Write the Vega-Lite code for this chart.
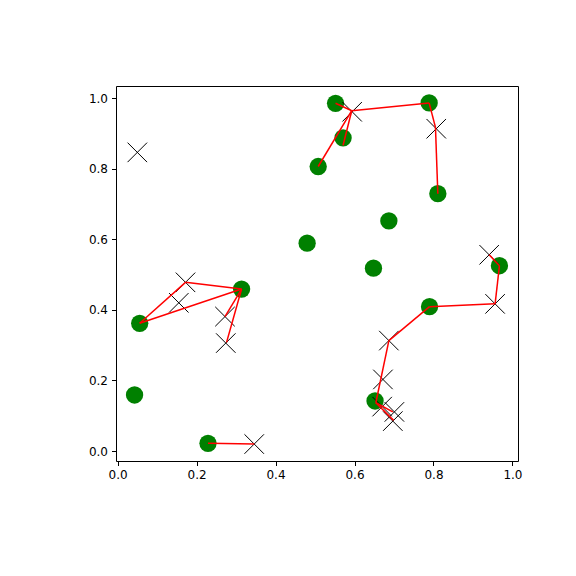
{
  "$schema": "https://vega.github.io/schema/vega-lite/v6.json",
  "width": 402,
  "height": 375,
  "autosize": {"type": "none"},
  "padding": {"left": 116, "top": 86, "right": 58, "bottom": 115},
  "background": "white",
  "config": {
    "view": {"stroke": "black", "strokeWidth": 1},
    "axis": {
      "grid": false,
      "domain": false,
      "tickColor": "black",
      "tickSize": 4.5,
      "tickWidth": 1,
      "labelFont": "DejaVu Sans",
      "labelFontSize": 12,
      "labelColor": "black",
      "labelPadding": 4,
      "title": null
    }
  },
  "datasets": {
    "circles": [
      {"x": 0.552, "y": 0.985},
      {"x": 0.571, "y": 0.887},
      {"x": 0.508, "y": 0.806},
      {"x": 0.789, "y": 0.986},
      {"x": 0.811, "y": 0.729},
      {"x": 0.687, "y": 0.652},
      {"x": 0.480, "y": 0.589},
      {"x": 0.648, "y": 0.518},
      {"x": 0.967, "y": 0.525},
      {"x": 0.790, "y": 0.409},
      {"x": 0.652, "y": 0.142},
      {"x": 0.314, "y": 0.459},
      {"x": 0.056, "y": 0.362},
      {"x": 0.043, "y": 0.159},
      {"x": 0.229, "y": 0.022}
    ],
    "crosses": [
      {"x": 0.050, "y": 0.846},
      {"x": 0.594, "y": 0.961},
      {"x": 0.807, "y": 0.913},
      {"x": 0.941, "y": 0.556},
      {"x": 0.956, "y": 0.417},
      {"x": 0.687, "y": 0.313},
      {"x": 0.672, "y": 0.203},
      {"x": 0.670, "y": 0.126},
      {"x": 0.701, "y": 0.111},
      {"x": 0.697, "y": 0.085},
      {"x": 0.172, "y": 0.478},
      {"x": 0.155, "y": 0.420},
      {"x": 0.272, "y": 0.381},
      {"x": 0.274, "y": 0.306},
      {"x": 0.346, "y": 0.020}
    ],
    "segments": [
      {"x": 0.508, "y": 0.806, "x2": 0.593, "y2": 0.964},
      {"x": 0.593, "y": 0.964, "x2": 0.552, "y2": 0.985},
      {"x": 0.593, "y": 0.964, "x2": 0.571, "y2": 0.866},
      {"x": 0.593, "y": 0.964, "x2": 0.789, "y2": 0.986},
      {"x": 0.789, "y": 0.986, "x2": 0.805, "y2": 0.917},
      {"x": 0.805, "y": 0.917, "x2": 0.811, "y2": 0.729},
      {"x": 0.941, "y": 0.556, "x2": 0.967, "y2": 0.525},
      {"x": 0.967, "y": 0.525, "x2": 0.956, "y2": 0.417},
      {"x": 0.956, "y": 0.417, "x2": 0.790, "y2": 0.409},
      {"x": 0.790, "y": 0.409, "x2": 0.687, "y2": 0.313},
      {"x": 0.687, "y": 0.313, "x2": 0.654, "y2": 0.137},
      {"x": 0.654, "y": 0.137, "x2": 0.697, "y2": 0.111},
      {"x": 0.654, "y": 0.137, "x2": 0.699, "y2": 0.087},
      {"x": 0.056, "y": 0.362, "x2": 0.172, "y2": 0.478},
      {"x": 0.172, "y": 0.478, "x2": 0.314, "y2": 0.459},
      {"x": 0.056, "y": 0.362, "x2": 0.314, "y2": 0.459},
      {"x": 0.314, "y": 0.459, "x2": 0.272, "y2": 0.381},
      {"x": 0.314, "y": 0.459, "x2": 0.276, "y2": 0.308},
      {"x": 0.229, "y": 0.022, "x2": 0.346, "y2": 0.020}
    ]
  },
  "encoding": {
    "x": {
      "field": "x",
      "type": "quantitative",
      "scale": {"domain": [-0.004, 1.014], "nice": false, "zero": false},
      "axis": {"values": [0, 0.2, 0.4, 0.6, 0.8, 1.0], "format": ".1f"}
    },
    "y": {
      "field": "y",
      "type": "quantitative",
      "scale": {"domain": [-0.028, 1.034], "nice": false, "zero": false},
      "axis": {"values": [0, 0.2, 0.4, 0.6, 0.8, 1.0], "format": ".1f"}
    }
  },
  "layer": [
    {
      "data": {"name": "circles"},
      "mark": {"type": "point", "shape": "circle", "filled": true, "color": "#008000", "opacity": 1, "size": 300}
    },
    {
      "data": {"name": "crosses"},
      "mark": {"type": "point", "shape": "M-1,-1L1,1M-1,1L1,-1", "filled": false, "stroke": "black", "strokeWidth": 1, "opacity": 1, "size": 380}
    },
    {
      "data": {"name": "segments"},
      "mark": {"type": "rule", "color": "red", "strokeWidth": 1.5},
      "encoding": {
        "x2": {"field": "x2"},
        "y2": {"field": "y2"}
      }
    }
  ]
}
